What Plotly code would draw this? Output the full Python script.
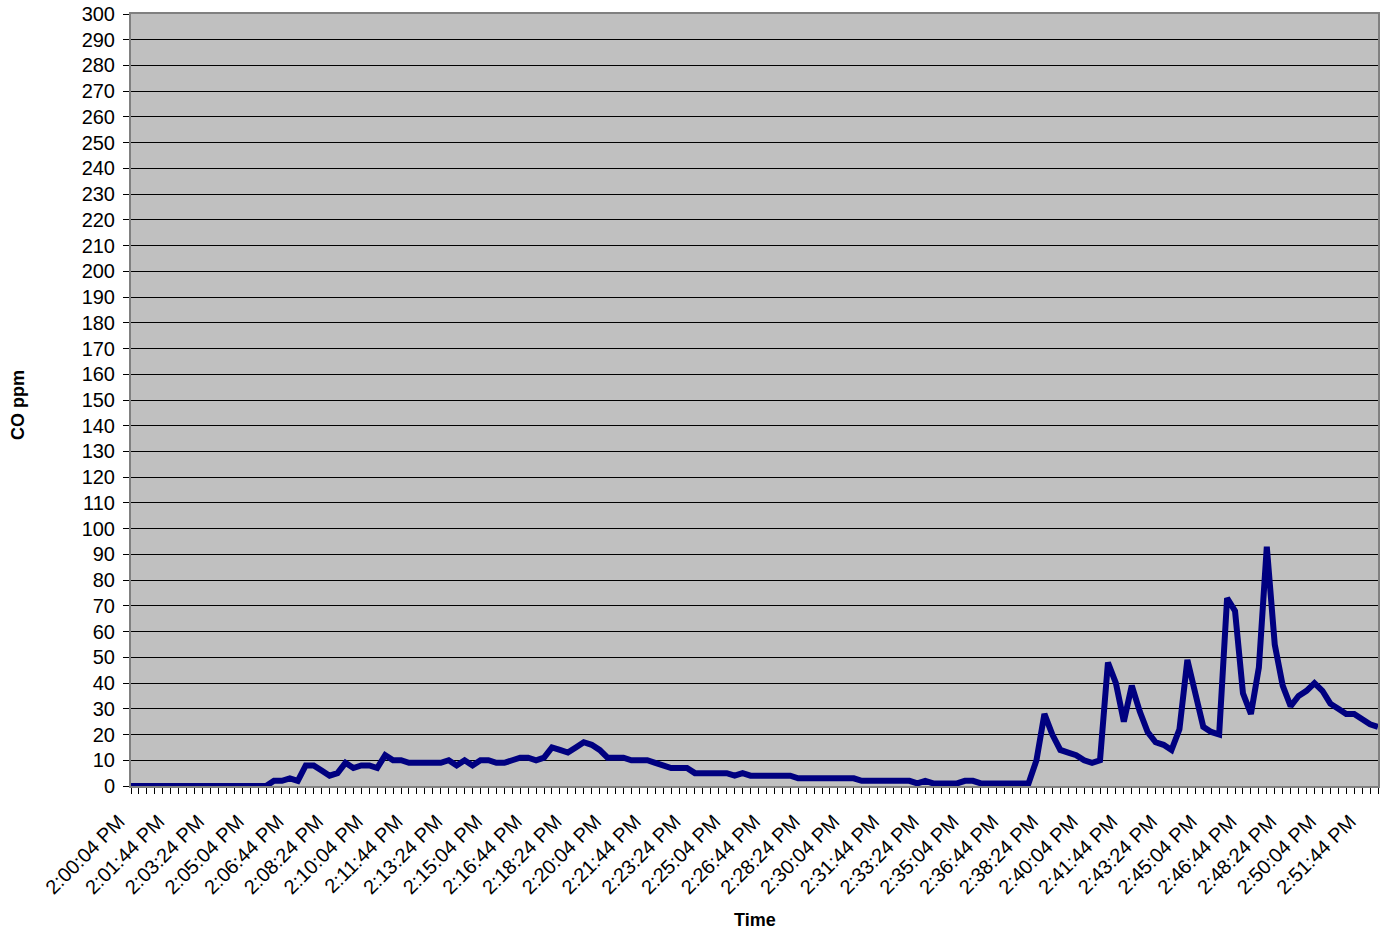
import pandas as pd
import plotly.graph_objects as go

# CO concentration (ppm), one reading every 20 s starting 2:00:04 PM
co_ppm = [
    0, 0, 0, 0, 0, 0, 0, 0, 0, 0,
    0, 0, 0, 0, 0, 0, 0, 0, 2, 2,
    3, 2, 8, 8, 6, 4, 5, 9, 7, 8,
    8, 7, 12, 10, 10, 9, 9, 9, 9, 9,
    10, 8, 10, 8, 10, 10, 9, 9, 10, 11,
    11, 10, 11, 15, 14, 13, 15, 17, 16, 14,
    11, 11, 11, 10, 10, 10, 9, 8, 7, 7,
    7, 5, 5, 5, 5, 5, 4, 5, 4, 4,
    4, 4, 4, 4, 3, 3, 3, 3, 3, 3,
    3, 3, 2, 2, 2, 2, 2, 2, 2, 1,
    2, 1, 1, 1, 1, 2, 2, 1, 1, 1,
    1, 1, 1, 1, 10, 28, 20, 14, 13, 12,
    10, 9, 10, 48, 40, 25, 39, 29, 21, 17,
    16, 14, 22, 49, 36, 23, 21, 20, 73, 68,
    36, 28, 46, 93, 55, 39, 31, 35, 37, 40,
    37, 32, 30, 28, 28, 26, 24, 23,
]

start_time = "2000-01-01 14:00:04"
sample_seconds = 20
times = pd.date_range(start_time, periods=len(co_ppm), freq=f"{sample_seconds}s")

tick_labels = [
    "2:00:04 PM", "2:01:44 PM", "2:03:24 PM", "2:05:04 PM", "2:06:44 PM",
    "2:08:24 PM", "2:10:04 PM", "2:11:44 PM", "2:13:24 PM", "2:15:04 PM",
    "2:16:44 PM", "2:18:24 PM", "2:20:04 PM", "2:21:44 PM", "2:23:24 PM",
    "2:25:04 PM", "2:26:44 PM", "2:28:24 PM", "2:30:04 PM", "2:31:44 PM",
    "2:33:24 PM", "2:35:04 PM", "2:36:44 PM", "2:38:24 PM", "2:40:04 PM",
    "2:41:44 PM", "2:43:24 PM", "2:45:04 PM", "2:46:44 PM", "2:48:24 PM",
    "2:50:04 PM", "2:51:44 PM",
]
tick_vals = list(times[::5])[: len(tick_labels)]

y_title = "CO ppm"
x_title = "Time"

FONT = "Arial, 'Liberation Sans', sans-serif"

fig = go.Figure()
fig.add_trace(go.Scatter(
    x=times, y=co_ppm, mode="lines",
    line=dict(color="#000080", width=6),
    showlegend=False, hoverinfo="x+y",
))

W, H = 1391, 932
L, R, T, B = 131, 13, 14, 146
pw, ph = W - L - R, H - T - B

fig.update_layout(
    width=W, height=H,
    margin=dict(l=L, r=R, t=T, b=B, pad=0, autoexpand=False),
    paper_bgcolor="white",
    plot_bgcolor="#C0C0C0",
    font=dict(family=FONT, size=20, color="black"),
    showlegend=False,
)

fig.update_xaxes(
    type="date", automargin=False,
    range=[times[0], times[-1]],
    tickmode="array", tickvals=tick_vals, ticktext=tick_labels,
    tickangle=-45,
    ticklabelstandoff=8, ticklabelshift=-12,
    ticks="outside", ticklen=6, tickcolor="black", tickwidth=1,
    minor=dict(ticks="outside", ticklen=6, tickcolor="black", tickwidth=1,
               tickmode="linear", tick0=start_time, dtick=sample_seconds * 1000,
               showgrid=False),
    showgrid=False, zeroline=False,
    showline=True, linecolor="#808080", linewidth=2, mirror=True,
    tickfont=dict(family=FONT, size=20, color="black"),
)
fig.update_yaxes(
    automargin=False,
    range=[0, 300], tickmode="linear", tick0=0, dtick=10,
    ticks="outside", ticklen=6, tickcolor="black", tickwidth=1,
    ticklabelstandoff=4,
    showgrid=True, gridcolor="black", gridwidth=1,
    zeroline=False,
    showline=True, linecolor="#808080", linewidth=2, mirror=True,
    tickfont=dict(family=FONT, size=20, color="black"),
)

fig.add_annotation(
    text=f"<b>{y_title}</b>", xref="paper", yref="paper",
    x=(18 - L) / pw, y=(H - B - 405) / ph, textangle=-90,
    showarrow=False, font=dict(family=FONT, size=18, color="black"),
    xanchor="center", yanchor="middle",
)
fig.add_annotation(
    text=f"<b>{x_title}</b>", xref="paper", yref="paper",
    x=(755 - L) / pw, y=(H - B - 920) / ph,
    showarrow=False, font=dict(family=FONT, size=18, color="black"),
    xanchor="center", yanchor="middle",
)

fig.write_html(
    "out.html",
    config={"displayModeBar": False},
    post_script=(
        "document.body.style.margin='0';document.body.style.padding='0';"
        "var d=document.getElementById('{plot_id}');"
        "d.style.position='absolute';d.style.left='0px';d.style.top='0px';"
    ),
)
